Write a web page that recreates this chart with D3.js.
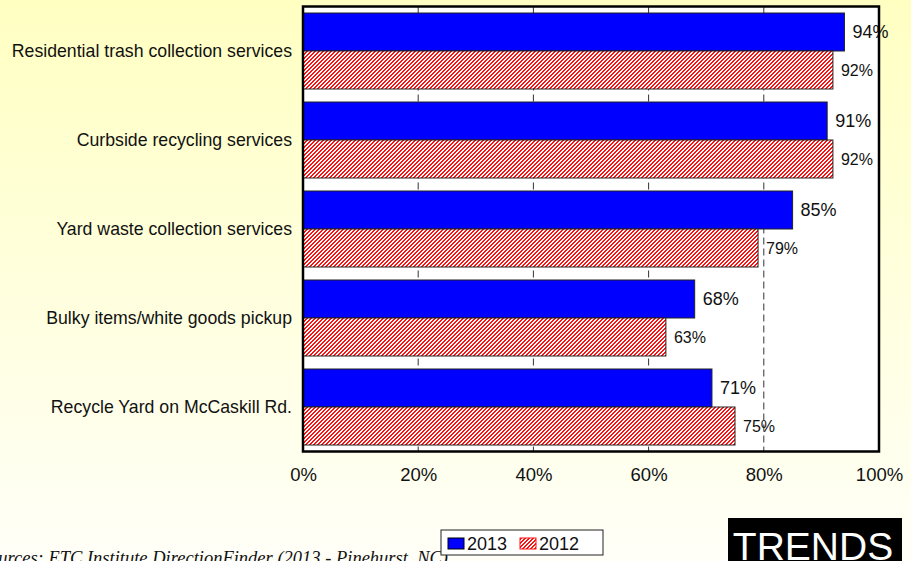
<!DOCTYPE html>
<html>
<head>
<meta charset="utf-8">
<script src="https://cdn.jsdelivr.net/npm/d3@7/dist/d3.min.js"></script>
<style>
  html, body { margin: 0; padding: 0; background: #fffff4; }
  svg { display: block; font-family: Arial, "Liberation Sans", sans-serif; }
</style>
</head>
<body>
<svg id="chart" width="911" height="561"></svg>
<script>
// Service satisfaction, 2013 vs 2012
const categories = [
  "Residential trash collection services",
  "Curbside recycling services",
  "Yard waste collection services",
  "Bulky items/white goods pickup",
  "Recycle Yard on McCaskill Rd."
];
const series = ["2013", "2012"];
const values2013 = [0.94, 0.91, 0.85, 0.68, 0.71];
const values2012 = [0.92, 0.92, 0.79, 0.63, 0.75];
const tickValues = [0, 0.2, 0.4, 0.6, 0.8, 1.0];
const sourceNote = "Sources: ETC Institute DirectionFinder (2013 - Pinehurst, NC)";
const badgeText = "TRENDS";

const W = 911, H = 561;
const plot = { left: 303, right: 879, top: 6.5, bottom: 451.5 };

const svg = d3.select("#chart");
const defs = svg.append("defs");

// soft yellow page background
const bg = defs.append("linearGradient").attr("id", "bgGrad")
  .attr("x1", 0).attr("y1", 0).attr("x2", 0).attr("y2", 1);
bg.append("stop").attr("offset", "0%").attr("stop-color", "#ffffc2");
bg.append("stop").attr("offset", "100%").attr("stop-color", "#fffff8");

// fine red "/" hatch for 2012, built pixel by pixel so it stays crisp
const hatch = defs.append("pattern").attr("id", "hatch")
  .attr("patternUnits", "userSpaceOnUse")
  .attr("width", 4).attr("height", 4);
hatch.append("rect").attr("width", 4).attr("height", 4).attr("fill", "#ffffff");
const cells = [];
for (let i = 0; i < 4; i++) for (let j = 0; j < 4; j++) if ((i + j) % 4 < 2) cells.push([i, j]);
hatch.selectAll("rect.px").data(cells).join("rect").attr("class", "px")
  .attr("x", d => d[0]).attr("y", d => d[1]).attr("width", 1).attr("height", 1)
  .attr("fill", "#ff1010").attr("shape-rendering", "crispEdges");

svg.append("rect").attr("width", W).attr("height", H).attr("fill", "url(#bgGrad)");

const x = d3.scaleLinear().domain([0, 1]).range([plot.left, plot.right]);
const p = 13 / 89;
const y = d3.scaleBand().domain(categories)
  .range([plot.top, plot.bottom]).paddingInner(p).paddingOuter(p / 2);
const ySub = d3.scaleBand().domain(series).range([0, y.bandwidth()]);
const fills = { "2013": "#0000ff", "2012": "url(#hatch)" };

// plot area
svg.append("rect")
  .attr("x", plot.left).attr("y", plot.top)
  .attr("width", plot.right - plot.left).attr("height", plot.bottom - plot.top)
  .attr("fill", "#ffffff");

// dashed gridlines
svg.append("g").selectAll("line")
  .data(tickValues.filter(v => v > 0 && v < 1))
  .join("line")
  .attr("x1", d => x(d)).attr("x2", d => x(d))
  .attr("y1", plot.top).attr("y2", plot.bottom)
  .attr("stroke", "#333").attr("stroke-width", 1)
  .attr("stroke-dasharray", "7,4");

const rows = categories.map((c, i) => ({
  cat: c,
  vals: [{ s: "2013", v: values2013[i] }, { s: "2012", v: values2012[i] }]
}));

const groups = svg.append("g").selectAll("g")
  .data(rows).join("g")
  .attr("transform", d => `translate(0,${y(d.cat)})`);

groups.selectAll("rect")
  .data(d => d.vals).join("rect")
  .attr("x", x(0))
  .attr("y", d => ySub(d.s))
  .attr("width", d => x(d.v) - x(0))
  .attr("height", ySub.bandwidth())
  .attr("fill", d => fills[d.s])
  .attr("stroke", "#222").attr("stroke-width", 1);

// value labels
groups.selectAll("text.val")
  .data(d => d.vals).join("text")
  .attr("class", "val")
  .attr("x", d => x(d.v) + 8)
  .attr("y", d => ySub(d.s) + ySub.bandwidth() / 2)
  .attr("dy", "0.36em")
  .attr("font-size", d => d.s === "2013" ? 18 : 16)
  .attr("fill", "#111")
  .text(d => d3.format(".0%")(d.v));

// frame on top
svg.append("rect")
  .attr("x", plot.left).attr("y", plot.top)
  .attr("width", plot.right - plot.left).attr("height", plot.bottom - plot.top)
  .attr("fill", "none").attr("stroke", "#000").attr("stroke-width", 2.5);

// category labels
svg.append("g").selectAll("text")
  .data(categories).join("text")
  .attr("x", 292)
  .attr("y", d => y(d) + y.bandwidth() / 2)
  .attr("dy", "0.36em")
  .attr("text-anchor", "end")
  .attr("font-size", 17.7)
  .attr("fill", "#111")
  .text(d => d);

// x axis
const xAxis = d3.axisBottom(x)
  .tickValues(tickValues)
  .tickSize(0).tickPadding(16)
  .tickFormat(d3.format(".0%"));
const ax = svg.append("g").attr("transform", `translate(0,${plot.bottom})`).call(xAxis);
ax.select(".domain").remove();
ax.selectAll("text").attr("font-size", 18.5).attr("fill", "#111")
  .attr("font-family", "Arial, 'Liberation Sans', sans-serif");

// source note
svg.append("text")
  .attr("x", 448).attr("y", 564)
  .attr("text-anchor", "end")
  .attr("font-family", "'Times New Roman', 'Liberation Serif', serif")
  .attr("font-style", "italic")
  .attr("font-size", 18.5)
  .attr("fill", "#111")
  .text(sourceNote);

// legend
const lg = svg.append("g").attr("transform", "translate(441,530)");
lg.append("rect").attr("width", 162).attr("height", 25)
  .attr("fill", "#ffffff").attr("stroke", "#222").attr("stroke-width", 1);
const items = lg.selectAll("g.item").data(series).join("g")
  .attr("class", "item")
  .attr("transform", (d, i) => `translate(${7 + i * 72},8)`);
items.append("rect").attr("width", 16).attr("height", 11)
  .attr("fill", d => fills[d])
  .attr("stroke", d => d === "2013" ? "#000" : "#ff1010").attr("stroke-width", 1);
items.append("text").attr("x", 19).attr("y", 11.5)
  .attr("font-size", 18).attr("fill", "#111").text(d => d);

// badge
const badge = svg.append("g").attr("transform", "translate(728,518)");
badge.append("rect").attr("width", 174).attr("height", 50).attr("fill", "#000");
badge.append("text").attr("x", 85).attr("y", 42)
  .attr("text-anchor", "middle")
  .attr("font-size", 39).attr("fill", "#ffffff")
  .text(badgeText);
</script>
</body>
</html>
